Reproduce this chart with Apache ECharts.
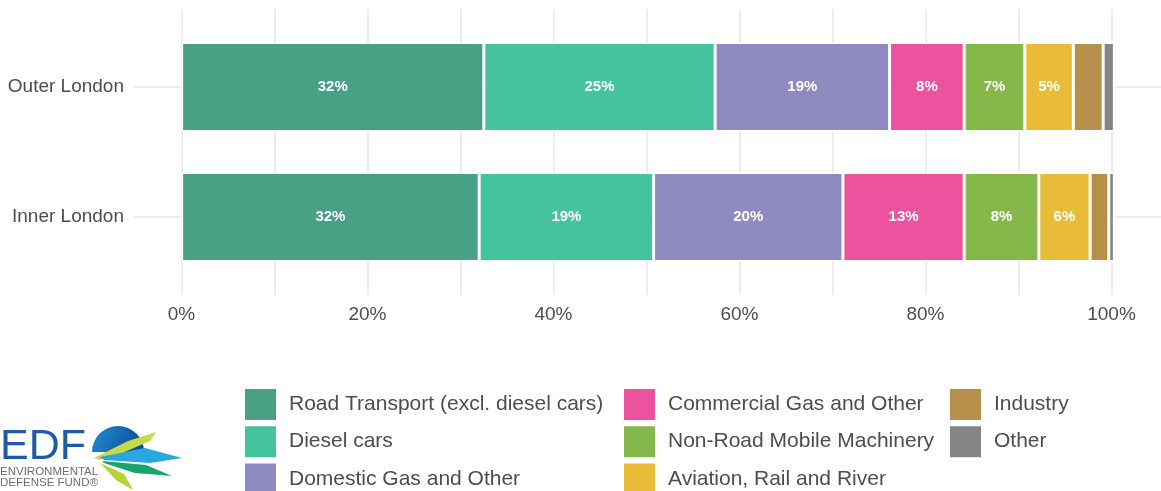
<!DOCTYPE html>
<html>
<head>
<meta charset="utf-8">
<script src="https://cdn.jsdelivr.net/npm/echarts@6/dist/echarts.min.js"></script>
<style>
    html, body { margin: 0; padding: 0; background: #fff; }
    #chart { width: 1161px; height: 491px; }
</style>
</head>
<body>
<div id="chart"></div>
<script>
// categories bottom -> top (echarts category y axis grows upward)
var regions = ['Inner London', 'Outer London'];
var sources = ['Road Transport (excl. diesel cars)', 'Diesel cars', 'Domestic Gas and Other',
    'Commercial Gas and Other', 'Non-Road Mobile Machinery', 'Aviation, Rail and River',
    'Industry', 'Other'];
// share (%) per source, [Inner, Outer]
var roadTransport = [31.9, 32.4];
var dieselCars = [18.7, 24.8];
var domesticGas = [20.3, 18.7];
var commercialGas = [13.0, 8.0];
var nonRoadMachinery = [8.0, 6.5];
var aviationRailRiver = [5.5, 5.2];
var industry = [2.0, 3.2];
var other = [0.6, 1.2];
var xTicks = [0, 20, 40, 60, 80, 100];

var seriesValues = [roadTransport, dieselCars, domesticGas, commercialGas,
    nonRoadMachinery, aviationRailRiver, industry, other];
var colors = ['#48a085', '#44c49d', '#8f8bc0', '#ec539f', '#84b84a', '#e9bc38', '#b68f4b', '#858585'];
var textColor = '#4d4d4d';
var gridColor = '#e6e6e6';
var font = 'Liberation Sans, Arial, sans-serif';

var myChart = echarts.init(document.getElementById('chart'));

var series = [
    {
        // only carries the horizontal grid lines behind the bars
        type: 'line',
        xAxisIndex: 0,
        yAxisIndex: 0,
        data: [],
        z: 0,
        markLine: {
            silent: true,
            z: 0,
            symbol: 'none',
            animation: false,
            label: { show: false },
            lineStyle: { color: gridColor, type: 'solid', width: 1.5 },
            data: regions.map(function (r) { return { yAxis: r }; })
        }
    }
];

sources.forEach(function (name, i) {
    series.push({
        name: name,
        type: 'bar',
        stack: 'total',
        xAxisIndex: 0,
        yAxisIndex: 0,
        barWidth: 89,
        z: 3,
        itemStyle: {
            color: colors[i],
            borderColor: '#fff',
            borderWidth: 1.5
        },
        label: {
            show: true,
            position: 'inside',
            color: '#fff',
            fontFamily: font,
            fontWeight: 'bold',
            fontSize: 15,
            formatter: function (p) {
                return p.value >= 4.5 ? Math.round(p.value) + '%' : '';
            }
        },
        data: seriesValues[i]
    });
});

function legendCol(left, names) {
    return {
        orient: 'vertical',
        left: left,
        top: 387,
        height: 200,
        padding: 0,
        itemWidth: 33,
        itemHeight: 33,
        itemGap: 2.2,
        icon: 'rect',
        selectedMode: false,
        textStyle: { color: textColor, fontSize: 21, fontFamily: font, padding: [0, 0, 0, 7] },
        data: names
    };
}

var option = {
    animation: false,
    textStyle: { fontFamily: font },
    grid: [
        { left: 135, right: 0, top: 22, bottom: 209 },
        { left: 135, right: 0, top: 9, bottom: 196 }
    ],
    xAxis: [
        {
            gridIndex: 0,
            type: 'value',
            min: -5,
            max: 105,
            show: false
        },
        {
            gridIndex: 1,
            type: 'value',
            min: -5,
            max: 105,
            interval: 5,
            axisLine: { show: false },
            axisTick: { show: false },
            splitLine: {
                show: true,
                lineStyle: { color: ['rgba(0,0,0,0)', gridColor], width: 1.5 }
            },
            axisLabel: {
                color: textColor,
                fontSize: 19,
                margin: 10,
                formatter: function (v) {
                    return xTicks.indexOf(v) >= 0 ? v + '%' : '';
                }
            }
        }
    ],
    yAxis: [
        {
            gridIndex: 0,
            type: 'category',
            data: regions,
            axisLine: { show: false },
            axisTick: { show: false },
            splitLine: { show: false },
            axisLabel: { color: textColor, fontSize: 19, margin: 11, padding: [5, 0, 0, 0] }
        },
        {
            gridIndex: 1,
            type: 'value',
            min: 0,
            max: 1,
            show: false
        }
    ],
    legend: [
        legendCol(243, sources.slice(0, 3)),
        legendCol(622, sources.slice(3, 6)),
        legendCol(948, sources.slice(6))
    ],
    graphic: [
        { type: 'text', left: 0, top: 426, style: { text: 'EDF', fill: '#1f5aa6', font: '300 43px ' + font } },
        { type: 'text', left: 0, top: 466, style: { text: 'ENVIRONMENTAL', fill: '#6d6e71', font: '11.5px ' + font } },
        { type: 'text', left: 0, top: 477, style: { text: 'DEFENSE FUND\u00ae', fill: '#6d6e71', font: '11.5px ' + font } },
        {
            type: 'sector', shape: { cx: 118, cy: 452, r: 26, startAngle: Math.PI, endAngle: 2 * Math.PI },
            style: { fill: new echarts.graphic.LinearGradient(0, 0, 1, 1, [
                { offset: 0, color: '#1f8fd6' }, { offset: 1, color: '#10428f' }]) }
        },
        { type: 'polygon', shape: { points: [[94, 458], [128, 441], [156, 432], [150, 441], [120, 454], [100, 460]] }, style: { fill: '#c5d94a' } },
        { type: 'polygon', shape: { points: [[100, 457], [145, 448], [182, 458], [150, 463], [104, 460]] }, style: { fill: '#29a8e0' } },
        { type: 'polygon', shape: { points: [[102, 461], [146, 465], [172, 476], [135, 473], [104, 463]] }, style: { fill: '#1aa36b' } },
        { type: 'polygon', shape: { points: [[100, 463], [124, 474], [133, 490], [116, 480]] }, style: { fill: '#b5d334' } }
    ],
    series: series
};

myChart.setOption(option);
</script>
</body>
</html>
